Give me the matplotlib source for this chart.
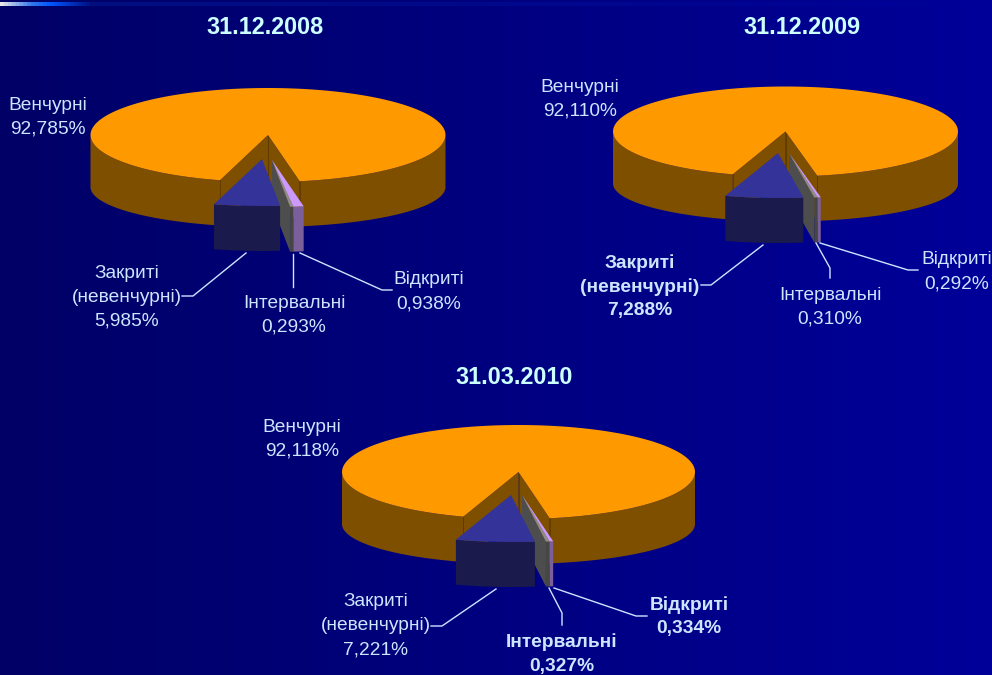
import matplotlib
matplotlib.use("Agg")
import matplotlib.pyplot as plt
import numpy as np
from matplotlib.colors import LinearSegmentedColormap

plt.rcParams['font.family'] = ['Liberation Sans', 'DejaVu Sans']

# data
dates = ["31.12.2008", "31.12.2009", "31.03.2010"]
venture = [92.785, 92.110, 92.118]
closed = [5.985, 7.288, 7.221]
interval = [0.293, 0.310, 0.327]
opened = [0.938, 0.292, 0.334]

# layout of each pie, pixels
centers = [(268, 135), (785.5, 131.5), (518.5, 472)]
radii = [(177.5, 47), (172.5, 45), (176.5, 47)]
depth = 45
depth_end = 52  # side looks taller at the ends of the ellipse
gap_start = [-15.7, -17.8, -18.2]
closed_off = [(-6, 24), (-7.5, 21.5), (-7.5, 23)]
small_off = [(4, 25), (3.5, 21.5), (3.5, 23)]

title_pos = [(265, 27), (802, 27), (514, 378)]
venture_pos = [(48, 105), (580, 87), (302, 427)]
closed_pos = [(127, 273), (640, 263), (376, 602)]
interval_pos = [(294, 303), (830, 295), (562, 642)]
opened_pos = [(429, 280), (957, 260), (689, 605)]
closed_bold = [False, True, False]
interval_bold = [False, False, True]
opened_bold = [False, False, True]

closed_line = [[(246, 253), (193, 296), (182, 296)],
               [(763, 245), (711, 285), (701, 285)],
               [(496, 589), (442, 626), (431, 626)]]
interval_line = [[(293, 254), (293, 287)],
                 [(816, 243), (830, 268), (830, 278)],
                 [(549, 588), (562, 613), (562, 625)]]
opened_line = [[(300, 253), (382, 290), (392, 290)],
               [(820, 243), (908, 270), (918, 270)],
               [(554, 588), (636, 616), (647, 616)]]

TXT = "#CCE6FF"
TITLE = "#CCFFFF"
LINE = "#CCE6FF"
FS = 13.8

fig = plt.figure(figsize=(9.92, 6.75), dpi=100)
ax = fig.add_axes([0, 0, 1, 1])

# background
bg = LinearSegmentedColormap.from_list("bg", ["#000066", "#000099"])
ax.imshow(np.linspace(0, 1, 256).reshape(1, -1), cmap=bg, extent=[0, 992, 675, 0], aspect="auto", zorder=0)
strip = LinearSegmentedColormap.from_list("strip", [(0, "#E6E6E6"), (0.03, "#3377EE"), (0.05, "#0055FF"), (0.09, "#000F80"), (1, "#000099")])
ax.imshow(np.linspace(0, 1, 512).reshape(1, -1), cmap=strip, extent=[0, 992, 6, 2], aspect="auto", zorder=1)
ax.set_xlim(0, 992)
ax.set_ylim(675, 0)
ax.axis("off")


def arc(c, r, a, b, n=80):
    t = np.radians(np.linspace(a, b, n))
    return c[0] + r[0] * np.sin(t), c[1] + r[1] * np.cos(t)


def outer_side(c, r, d, a, b, col, z):
    x, y = arc(c, r, a, b)
    ax.fill(np.r_[x, x[::-1]], np.r_[y, y[::-1] + d], color=col, lw=0, zorder=z)


def big_side(c, r, a, b, col, z):
    x, y = arc(c, r, a, b)
    t = np.radians(np.linspace(a, b, 80))
    yb = c[1] + depth_end + (r[1] - (depth_end - depth)) * np.cos(t)
    ax.fill(np.r_[x, x[::-1]], np.r_[y, yb[::-1]], color=col, lw=0, zorder=z)


def top(c, r, a, b, col, z):
    x, y = arc(c, r, a, b, 200)
    ax.fill(np.r_[c[0], x], np.r_[c[1], y], color=col, lw=0, zorder=z)


def label(pos, lines, bold, col=TXT):
    for i, s in enumerate(lines):
        ax.text(pos[0], pos[1] + i * 24, s, color=col, fontsize=FS, ha="center", va="center",
                fontweight="bold" if bold else "normal", zorder=10)


def pct(v):
    return "{:.3f}%".format(v).replace(".", ",")


for i in range(3):
    c, r = centers[i], radii[i]
    a0 = gap_start[i]
    a1 = a0 + closed[i] * 3.6
    a2 = a1 + interval[i] * 3.6
    a3 = a2 + opened[i] * 3.6

    # big orange slice: walls of the gap, outer side, top
    for a in (a0, a3):
        x, y = arc(c, r, a, a, 1)
        ax.fill([c[0], x[0], x[0], c[0]], [c[1], y[0], y[0] + depth, c[1] + depth], color="#7F4F00", lw=0, zorder=2)
        ax.plot([x[0], x[0]], [y[0], y[0] + depth], color="#5F3B00", lw=0.6, zorder=3)
    ax.plot([c[0], c[0]], [c[1], c[1] + depth], color="#5F3B00", lw=0.8, zorder=3)
    big_side(c, r, -90, a0, "#7F4F00", 2)
    big_side(c, r, a3, 90, "#7F4F00", 2)
    top(c, r, a3, a3 + venture[i] * 3.6, "#FF9900", 4)

    # small slices
    cs = (c[0] + small_off[i][0], c[1] + small_off[i][1])
    x, y = arc(cs, r, a1, a1, 1)
    ax.fill([cs[0], x[0], x[0], cs[0]], [cs[1], y[0], y[0] + depth, cs[1] + depth], color="#4D4D4D", lw=0, zorder=5)
    outer_side(cs, r, depth, a1, a2, "#464646", 5)
    top(cs, r, a1, a2, "#8C8C8C", 6)
    outer_side(cs, r, depth, a2, a3, "#7B5F9A", 5)
    top(cs, r, a2, a3, "#CC99FF", 6)

    # closed slice
    cc = (c[0] + closed_off[i][0], c[1] + closed_off[i][1])
    outer_side(cc, r, depth, a0, a1, "#1A1A4D", 7)
    top(cc, r, a0, a1, "#333399", 8)

    # leader lines
    for pts in (closed_line[i], interval_line[i], opened_line[i]):
        p = np.array(pts)
        ax.plot(p[:, 0], p[:, 1], color=LINE, lw=1.0, zorder=9)

    # text
    ax.text(title_pos[i][0], title_pos[i][1], dates[i], color=TITLE, fontsize=16.8, fontweight="bold",
            ha="center", va="center", zorder=10)
    label(venture_pos[i], ["Венчурні", pct(venture[i])], False)
    label(closed_pos[i], ["Закриті", "(невенчурні)", pct(closed[i])], closed_bold[i])
    label(interval_pos[i], ["Інтервальні", pct(interval[i])], interval_bold[i])
    label(opened_pos[i], ["Відкриті", pct(opened[i])], opened_bold[i])

fig.savefig("out.png", dpi=100, facecolor="#000066")
